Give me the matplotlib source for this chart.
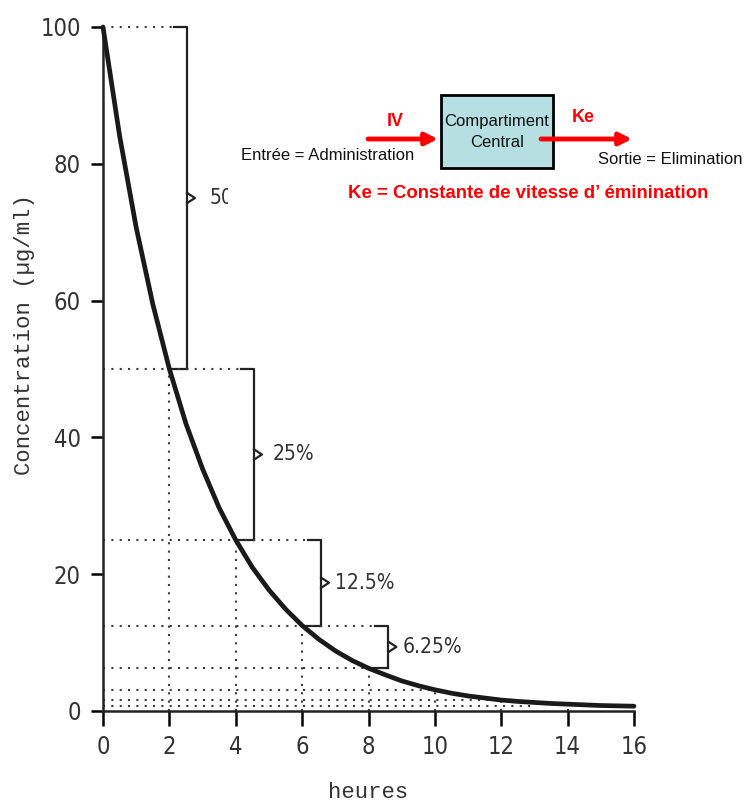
import matplotlib
matplotlib.use("Agg")
from matplotlib import pyplot as plt
from matplotlib import font_manager
from matplotlib.patches import Rectangle

# --- donnees ---
heures = [0, 0.5, 1, 1.5, 2, 2.5, 3, 3.5, 4, 4.5, 5, 5.5, 6, 6.5, 7, 7.5, 8,
          8.5, 9, 9.5, 10, 10.5, 11, 11.5, 12, 12.5, 13, 13.5, 14, 14.5, 15, 15.5, 16]
concentration = [100, 84.1, 70.7, 59.5, 50, 42.0, 35.4, 29.7, 25, 21.0, 17.7, 14.9, 12.5,
                 10.5, 8.8, 7.4, 6.25, 5.3, 4.4, 3.7, 3.1, 2.6, 2.2, 1.9, 1.6,
                 1.4, 1.25, 1.1, 1.0, 0.9, 0.8, 0.75, 0.7]
ticks_x = [0, 2, 4, 6, 8, 10, 12, 14, 16]
ticks_y = [0, 20, 40, 60, 80, 100]

# accolades : niveau haut, niveau bas, position, libelle
niveaux_haut = [100, 50, 25, 12.5]
niveaux_bas = [50, 25, 12.5, 6.25]
temps_bas = [2, 4, 6, 8]
x_accolades = [2.53, 4.55, 6.57, 8.6]
x_libelles = [3.22, 5.12, 6.99, 9.04]
pourcentages = ["50%", "25%", "12.5%", "6.25%"]

# lignes pointillees basses
paliers = [6.25, 3.125, 1.56, 0.78]
fin_paliers = [8, 10, 12, 13]
verticales = [2, 4, 6, 8, 10, 12, 14]
haut_verticales = [50, 25, 12.5, 6.25, 3.125, 1.56, 0.78]

# police etroite si disponible
noms = {f.name for f in font_manager.fontManager.ttflist}
etroit = dict(family="Liberation Sans Narrow")
taille = 16
if "Liberation Sans Narrow" not in noms:
    if any("Condensed" in f.fname and "DejaVuSans" in f.fname for f in font_manager.fontManager.ttflist):
        etroit = dict(family="DejaVu Sans", stretch="condensed")
        taille = 15
    else:
        etroit = dict(family="Roboto")
        taille = 14

W, H = 746, 802
fig = plt.figure(figsize=(W / 100, H / 100), dpi=100)
ax = fig.add_axes([103 / W, 1 - 711 / H, 531 / W, 684 / H])
ax.set_xlim(0, 16)
ax.set_ylim(0, 100)

gris = "#333333"
trait = "#222222"
pointille = dict(color="#3a3a3a", lw=1.5, linestyle=(0, (1, 3)), clip_on=False)

# pointilles horizontaux des niveaux + accolades
for h, b, tb, xa, xl, lab in zip(niveaux_haut, niveaux_bas, temps_bas, x_accolades,
                                 x_libelles, pourcentages):
    ax.plot([0, xa - 0.4], [h, h], **pointille)
    ax.plot([xa - 0.4, xa, xa], [h, h, b], color=trait, lw=1.6, clip_on=False)
    ax.plot([tb, xa], [b, b], color=trait, lw=1.6, clip_on=False)
    mid = (h + b) / 2
    ax.plot([xa, xa + 0.24, xa], [mid + 0.75, mid, mid - 0.75], color=trait, lw=1.6,
            clip_on=False)
    ax.text(xl, mid, lab, fontsize=taille, color=gris, va="center", ha="left",
            **etroit)

for p, f in zip(paliers, fin_paliers):
    ax.plot([0, f], [p, p], **pointille)
for v, hv in zip(verticales, haut_verticales):
    ax.plot([v, v], [0, hv], **pointille)

# courbe
ax.plot(heures, concentration, color="#1a1a1a", lw=3.4, clip_on=False,
        solid_capstyle="round", zorder=5)

for s in ["top", "right"]:
    ax.spines[s].set_visible(False)
for s in ["left", "bottom"]:
    ax.spines[s].set_linewidth(1.8)
    ax.spines[s].set_color(trait)
ax.set_xticks(ticks_x)
ax.set_yticks(ticks_y)
ax.tick_params(axis="x", direction="out", length=11, width=1.8, pad=6,
               labelsize=taille + 2, labelcolor=gris)
ax.tick_params(axis="y", direction="out", length=9, width=1.8, pad=7,
               labelsize=taille + 2, labelcolor=gris)
for t in ax.get_xticklabels() + ax.get_yticklabels():
    t.set_fontproperties(font_manager.FontProperties(size=taille + 2, **etroit))
ax.patch.set_alpha(0)

fig.text(25 / W, 1 - 335 / H, "Concentration (µg/ml)", rotation=90, ha="center",
         va="center", fontsize=16, family="Liberation Mono", color=gris)
fig.text(368 / W, 1 - 792 / H, "heures", ha="center", va="center",
         fontsize=16, family="Liberation Mono", color=gris)

# --- schema du compartiment (masque blanc par dessus le graphique) ---
fig.patches.append(Rectangle((228 / W, 1 - 215 / H), (W - 228) / W, 130 / H,
                             transform=fig.transFigure, facecolor="white",
                             edgecolor="none", zorder=10))
fig.patches.append(Rectangle((441 / W, 1 - 168 / H), 112 / W, 73 / H,
                             transform=fig.transFigure, facecolor="#b5dfe0",
                             edgecolor="black", lw=2, zorder=11))
fig.text(497 / W, 1 - 132 / H, "Compartiment\nCentral", ha="center", va="center",
         fontsize=12, family="Liberation Sans", color="#111111", zorder=12,
         linespacing=1.45)

fleche = dict(arrowstyle="-|>", color="red", lw=3.5, mutation_scale=18,
              shrinkA=0, shrinkB=0)
fig.add_artist(plt.annotate("", xy=(438, H - 139), xytext=(368, H - 139),
                            xycoords="figure pixels", textcoords="figure pixels",
                            arrowprops=fleche, zorder=12))
fig.add_artist(plt.annotate("", xy=(632, H - 139), xytext=(541, H - 139),
                            xycoords="figure pixels", textcoords="figure pixels",
                            arrowprops=fleche, zorder=12))
fig.text(395 / W, 1 - 122 / H, "IV", ha="center", va="center", fontsize=13,
         weight="bold", color="red", family="Liberation Sans", zorder=12)
fig.text(583 / W, 1 - 117 / H, "Ke", ha="center", va="center", fontsize=13,
         weight="bold", color="red", family="Liberation Sans", zorder=12)
fig.text(241 / W, 1 - 156 / H, "Entrée = Administration", ha="left", va="center",
         fontsize=12, color="#111111", family="Liberation Sans", zorder=12)
fig.text(598 / W, 1 - 160 / H, "Sortie = Elimination", ha="left", va="center",
         fontsize=12, color="#111111", family="Liberation Sans", zorder=12)
fig.text(348 / W, 1 - 194 / H, "Ke = Constante de vitesse d’ éminination", ha="left",
         va="center", fontsize=13.4, weight="bold", color="red",
         family="Liberation Sans", zorder=12)

fig.savefig("out.png", dpi=100)
